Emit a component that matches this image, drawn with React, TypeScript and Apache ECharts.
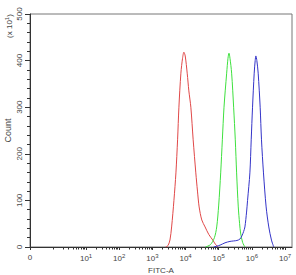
import React, { useEffect, useRef } from "react";
import * as echarts from "echarts";

// x positions are in decades (log10 of FITC-A); ZERO_POS is where "0" sits on the biexponential scale
const ZERO_POS = -0.69;
const X_MAX = 7.21;
const majorTickValues = [ZERO_POS, 1, 2, 3, 4, 5, 6, 7];
const minorTickValues: number[] = [];
for (let d = 0; d < 7; d++) {
  for (let k = 1; k <= 9; k++) {
    if (k === 1 && d > 0) continue;
    minorTickValues.push(d + Math.log10(k));
  }
}

const yTicks = [0, 100, 200, 300, 400, 500];

const redX = [3.40, 3.47, 3.53, 3.58, 3.65, 3.71, 3.76, 3.80, 3.86, 3.91, 3.95, 3.99, 4.05, 4.10, 4.16, 4.23, 4.31, 4.36, 4.41, 4.49, 4.59, 4.70, 4.82, 4.90, 4.98];
const redY = [0, 3, 15, 43, 100, 159, 230, 300, 373, 405, 418, 410, 373, 335, 300, 230, 159, 120, 86, 58, 43, 27, 15, 6, 0];

const greenX = [4.60, 4.75, 4.87, 4.94, 5.00, 5.06, 5.11, 5.16, 5.24, 5.28, 5.31, 5.34, 5.39, 5.45, 5.50, 5.54, 5.59, 5.63, 5.66, 5.72, 5.79];
const greenY = [0, 5, 20, 43, 90, 159, 230, 300, 373, 405, 416, 405, 373, 300, 230, 159, 86, 50, 30, 10, 0];

const blueX = [4.85, 4.95, 5.04, 5.19, 5.34, 5.45, 5.55, 5.64, 5.70, 5.75, 5.79, 5.84, 5.87, 5.94, 5.98, 6.02, 6.07, 6.10, 6.12, 6.15, 6.19, 6.25, 6.29, 6.35, 6.43, 6.51, 6.59, 6.66];
const blueY = [0, 2, 4, 9, 12, 13, 14, 17, 24, 33, 43, 75, 100, 159, 230, 300, 373, 400, 410, 400, 373, 300, 230, 159, 86, 43, 15, 0];

const zip = (xs: number[], ys: number[]) => xs.map((x, i) => [x, ys[i]]);

const TEXT = "#444";
const FONT = "Liberation Sans, Arial, sans-serif";

export default function App() {
  const ref = useRef<HTMLDivElement>(null);
  useEffect(() => {
    if (!ref.current) return;
    const chart = echarts.init(ref.current, null, { renderer: "svg" });
    const richLabel = {
      b: { fontSize: 8, color: TEXT, fontFamily: FONT },
      s: { fontSize: 6, color: TEXT, fontFamily: FONT, verticalAlign: "top", padding: [0, 0, 5, 0] },
    };
    chart.setOption({
      animation: false,
      backgroundColor: "#fff",
      grid: {
        left: 30, right: 4, top: 14, bottom: 28,
        containLabel: false, outerBoundsMode: "none",
        show: true, borderColor: "#777", borderWidth: 1,
      },
      xAxis: [
        {
          type: "value",
          min: ZERO_POS,
          max: X_MAX,
          name: "FITC-A",
          nameLocation: "middle",
          nameGap: 19,
          nameMoveOverlap: false,
          nameTextStyle: { fontSize: 8, color: TEXT, fontFamily: FONT },
          axisLine: { onZero: false, lineStyle: { color: "#333", width: 1 } },
          axisTick: { show: true, length: 3, customValues: majorTickValues, lineStyle: { color: "#333" } },
          axisLabel: {
            customValues: majorTickValues,
            margin: 6,
            color: TEXT,
            fontSize: 8,
            fontFamily: FONT,
            rich: richLabel,
            formatter: (v: number) => (v < 0 ? "{b|0}" : "{b|10}{s|" + Math.round(v) + "}"),
          },
          splitLine: { show: false },
        },
        {
          type: "value",
          min: ZERO_POS,
          max: X_MAX,
          position: "bottom",
          axisLine: { show: false, onZero: false },
          axisTick: { show: true, length: 2.5, customValues: minorTickValues, lineStyle: { color: "#333" } },
          axisLabel: { show: false },
          splitLine: { show: false },
        },
      ],
      yAxis: {
        type: "value",
        min: 0,
        max: 500,
        interval: 100,
        name: "Count",
        nameLocation: "middle",
        nameGap: 18,
        nameMoveOverlap: false,
        nameTextStyle: { fontSize: 9, color: TEXT, fontFamily: FONT },
        axisLine: { show: true, onZero: false, lineStyle: { color: "#333", width: 1 } },
        axisTick: { show: true, length: 5, lineStyle: { color: "#333" } },
        minorTick: { show: true, splitNumber: 5, length: 3, lineStyle: { color: "#333" } },
        axisLabel: {
          rotate: 90,
          margin: 7,
          color: TEXT,
          fontSize: 8,
          fontFamily: FONT,
          align: "center",
          verticalAlign: "bottom",
          customValues: yTicks,
        },
        splitLine: { show: false },
      },
      graphic: [
        {
          type: "text",
          x: 9,
          y: 26,
          rotation: Math.PI / 2,
          style: {
            text: "(x 10{s|1})",
            fill: TEXT,
            fontSize: 8,
            fontFamily: FONT,
            align: "center",
            verticalAlign: "middle",
            rich: { s: { fontSize: 6, fill: TEXT, fontFamily: FONT, verticalAlign: "top", padding: [0, 0, 4, 0] } },
          },
        },
      ],
      series: [
        { type: "line", data: zip(redX, redY), showSymbol: false, smooth: 0.3, lineStyle: { color: "#e04848", width: 1 }, itemStyle: { color: "#e04848" } },
        { type: "line", data: zip(greenX, greenY), showSymbol: false, smooth: 0.3, lineStyle: { color: "#3ee03e", width: 1 }, itemStyle: { color: "#3ee03e" } },
        { type: "line", data: zip(blueX, blueY), showSymbol: false, smooth: 0.3, lineStyle: { color: "#3434c8", width: 1 }, itemStyle: { color: "#3434c8" } },
      ],
    });
    return () => chart.dispose();
  }, []);
  return <div ref={ref} style={{ position: "fixed", left: 0, top: 0, width: 296, height: 275 }} />;
}
